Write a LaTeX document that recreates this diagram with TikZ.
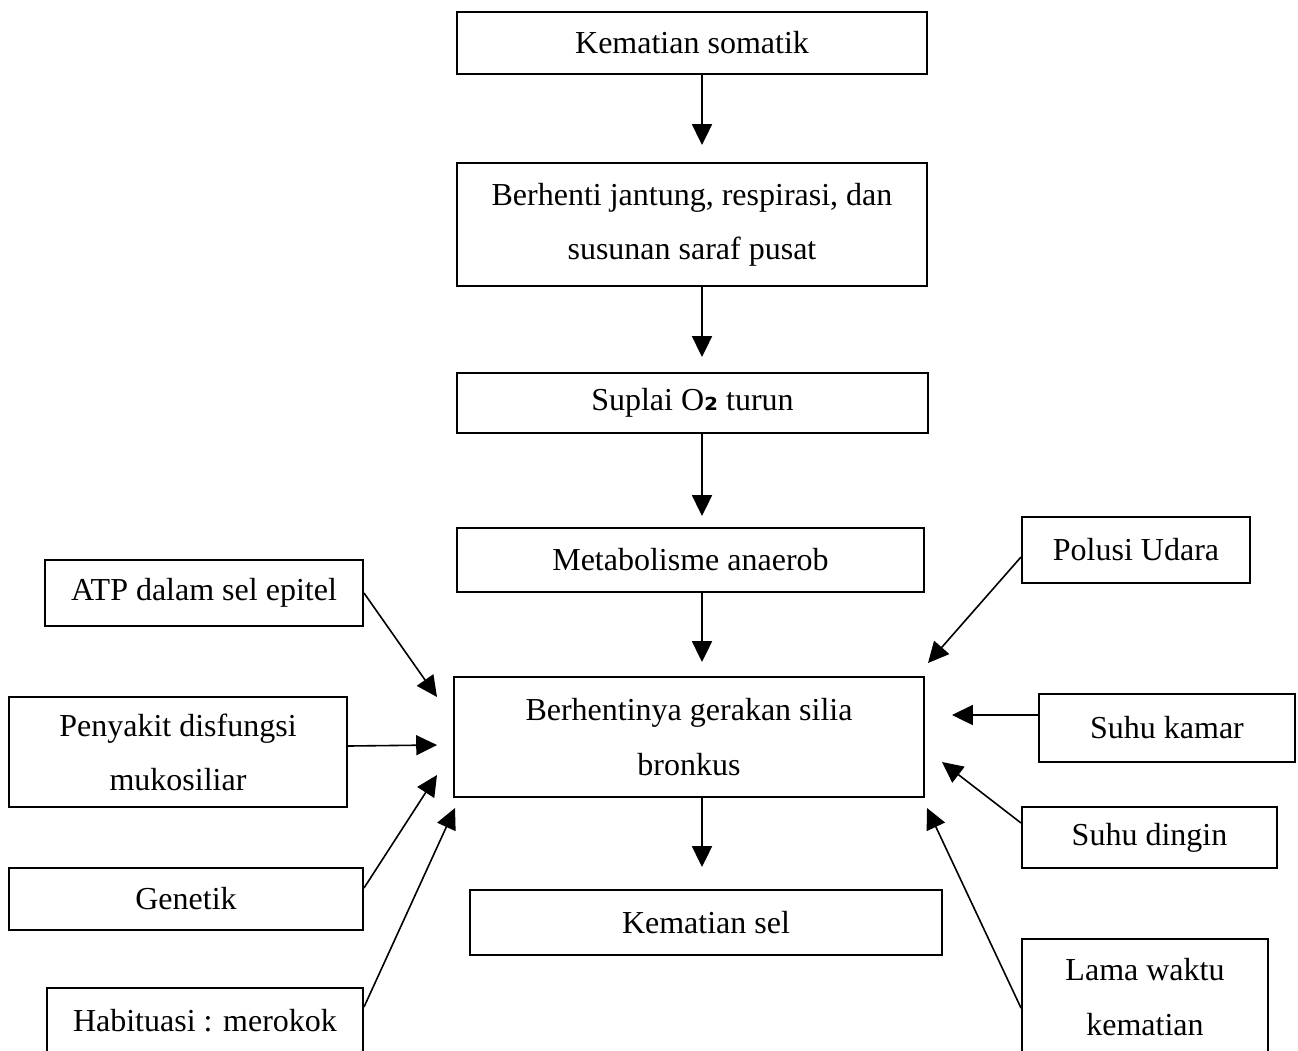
\documentclass[tikz,border=0pt]{standalone}
\usepackage{fontspec}
\setmainfont{Liberation Serif}
\newfontfamily\subfont{DejaVu Sans}
\usetikzlibrary{arrows.meta,calc}
\begin{document}
\begin{tikzpicture}[x=0.375pt,y=-0.375pt,
  box/.style={draw, line width=0.75pt, inner sep=0pt, align=center,
    font=\fontsize{12pt}{20.3pt}\selectfont},
  arr/.style={line width=0.6pt, -{Triangle[length=7.8pt,width=7.5pt]}}]
\useasboundingbox (0,0) rectangle (1298,1050);
\fill[white] (0,0) rectangle (1298,1050);
\clip (0,0) rectangle (1298,1050);
% main column
\node[box, minimum width=176.25pt, minimum height=23.25pt] (som) at (692,43) {Kematian somatik};
\node[box, minimum width=176.25pt, minimum height=46.1pt] (jan) at (692,224.5) {Berhenti jantung, respirasi, dan\\susunan saraf pusat};
\node[box, minimum width=176.6pt, minimum height=22.5pt] (sup) at (692.5,403) {Suplai O{\subfont\bfseries\fontsize{12pt}{12pt}\selectfont ₂} turun};
\node[box, minimum width=175.1pt, minimum height=24pt] (met) at (690.5,560) {Metabolisme anaerob};
\node[box, minimum width=176.25pt, minimum height=45pt] (sil) at (689,737) {Berhentinya gerakan silia\\bronkus};
\node[box, minimum width=177pt, minimum height=24.4pt] (sel) at (706,922.5) {Kematian sel};
% left
\node[box, minimum width=119.25pt, minimum height=24.75pt] (atp) at (204,593) {ATP dalam sel epitel};
\node[box, minimum width=126.75pt, minimum height=41.25pt] (pen) at (178,752) {Penyakit disfungsi\\mukosiliar};
\node[box, minimum width=132.75pt, minimum height=23.25pt] (gen) at (186,899) {Genetik};
\node[box, minimum width=118.5pt, minimum height=24.75pt] (hab) at (205,1021) {Habituasi : merokok};
% right
\node[box, minimum width=85.5pt, minimum height=24.75pt] (pol) at (1136,550) {Polusi Udara};
\node[box, minimum width=96pt, minimum height=25.5pt] (kam) at (1167,728) {Suhu kamar};
\node[box, minimum width=95.6pt, minimum height=22.9pt] (din) at (1149.5,837.5) {Suhu dingin};
\node[box, minimum width=92.25pt, minimum height=43.5pt] (lam) at (1145,997) {Lama waktu\\kematian};
% tip coordinates
\coordinate (ax) at (702,0);
\coordinate (t1) at (702,145);
\coordinate (t2) at (702,357);
\coordinate (t3) at (702,516);
\coordinate (t4) at (702,662);
\coordinate (t5) at (702,867);
\coordinate (tatp) at (437,697);
\coordinate (tpen) at (437,745);
\coordinate (tgen) at (437,775);
\coordinate (thab) at (455,808);
\coordinate (tpol) at (928,663);
\coordinate (tkam) at (952,715);
\coordinate (tdin) at (942,762);
\coordinate (tlam) at (927,808);
% vertical arrows
\draw[arr] (som.south -| ax) -- (t1);
\draw[arr] (jan.south -| ax) -- (t2);
\draw[arr] (sup.south -| ax) -- (t3);
\draw[arr] (met.south -| ax) -- (t4);
\draw[arr] (sil.south -| ax) -- (t5);
% side arrows
\draw[arr] (atp.east) -- (tatp);
\draw[arr] ($(pen.east)+(0,-6)$) -- (tpen);
\draw[arr] ($(gen.east)+(0,-11)$) -- (tgen);
\draw[arr] ($(hab.east)+(0,-14)$) -- (thab);
\draw[arr] ($(pol.west)+(0,7)$) -- (tpol);
\draw[arr] ($(kam.west)+(0,-13)$) -- (tkam);
\draw[arr] ($(din.west)+(0,-14.5)$) -- (tdin);
\draw[arr] ($(lam.west)+(0,11)$) -- (tlam);
\end{tikzpicture}
\end{document}
